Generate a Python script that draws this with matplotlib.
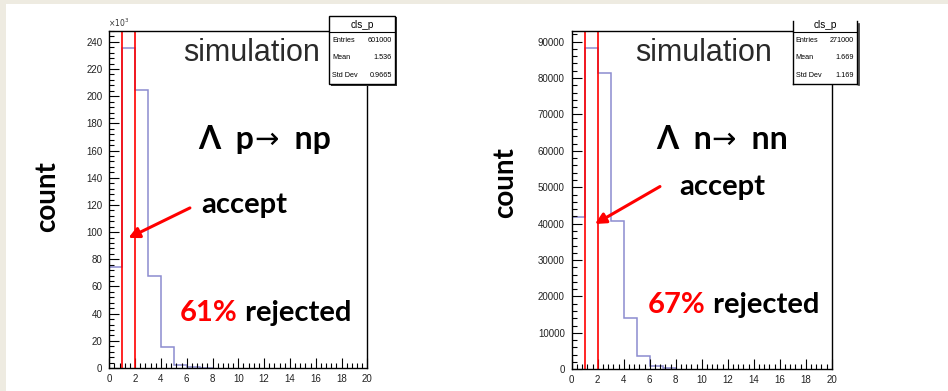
import numpy as np
import matplotlib
matplotlib.use("Agg")
import matplotlib.pyplot as plt
from matplotlib.patches import Rectangle
from matplotlib.lines import Line2D
from matplotlib.ticker import MultipleLocator

# histogram contents (cluster size, integer bins 0..8)
bin_edges = [0, 1, 2, 3, 4, 5, 6, 7, 8]
counts_lp = [74.5, 235.8, 204.5, 67.8, 15.3, 2.4, 0.8, 0.2]          # x10^3
counts_ln = [41900, 88300, 81300, 40700, 14000, 3600, 800, 300]
cut_lines = [1, 2]

stats_lp = [("Entries", "601000"), ("Mean", "1.536"), ("Std Dev", "0.9665")]
stats_ln = [("Entries", "271000"), ("Mean", "1.669"), ("Std Dev", "1.169")]

W, H = 948, 391
fig = plt.figure(figsize=(W / 100, H / 100), dpi=100)
fig.patch.set_facecolor("white")

def fx(px):
    return px / W

def fy(py):
    return 1 - py / H

beige = "#eeebe1"
fig.add_artist(Rectangle((0, fy(4)), 1, 4 / H, transform=fig.transFigure, color=beige, lw=0))
fig.add_artist(Rectangle((0, 0), fx(6), 1, transform=fig.transFigure, color=beige, lw=0))

tick_font = "Liberation Sans"
big_font = ["Lato", "DejaVu Sans"]
hist_col = "#8c8cd0"
BIG = 21


def setup_axis(ax, ymax, ymaj, ymin):
    ax.set_xlim(0, 20)
    ax.set_ylim(0, ymax)
    ax.xaxis.set_major_locator(MultipleLocator(2))
    ax.xaxis.set_minor_locator(MultipleLocator(0.4))
    ax.yaxis.set_major_locator(MultipleLocator(ymaj))
    ax.yaxis.set_minor_locator(MultipleLocator(ymin))
    ax.tick_params(which="both", direction="in", top=False, right=False,
                   labelsize=7, width=0.8, labelcolor="#222222")
    ax.tick_params(axis="x", pad=4)
    ax.tick_params(axis="y", pad=5)
    ax.tick_params(which="major", length=7)
    ax.tick_params(which="minor", length=3.5)
    for lab in ax.get_xticklabels() + ax.get_yticklabels():
        lab.set_fontfamily(tick_font)
    for s in ax.spines.values():
        s.set_linewidth(1.0)


def stats_box(x0, x1, ytop, ybot, rows, top_line=True):
    if top_line:
        fig.add_artist(Rectangle((fx(x0 + 1.5), fy(ybot + 1.5)), fx(x1 - x0), (ybot - ytop) / H,
                                 transform=fig.transFigure, facecolor="#333333", lw=0, zorder=5))
    fig.add_artist(Rectangle((fx(x0), fy(ybot)), fx(x1 - x0), (ybot - ytop) / H,
                             transform=fig.transFigure, facecolor="white",
                             edgecolor="black" if top_line else "none", lw=1.0, zorder=6))
    if not top_line:
        for xs, ys in [([x0, x0], [ytop, ybot]), ([x1, x1], [ytop, ybot]), ([x0, x1], [ybot, ybot])]:
            fig.add_artist(Line2D([fx(v) for v in xs], [fy(v) for v in ys],
                                  transform=fig.transFigure, color="black", lw=1.0, zorder=7))
        fig.add_artist(Line2D([fx(x1 + 1.2), fx(x1 + 1.2)], [fy(ytop + 3), fy(ybot + 1.2)],
                              transform=fig.transFigure, color="#333333", lw=1.2, zorder=5))
    fig.add_artist(Line2D([fx(x0), fx(x1)], [fy(31.7), fy(31.7)],
                          transform=fig.transFigure, color="black", lw=0.8, zorder=7))
    fig.text(fx((x0 + x1) / 2), fy(24.5), "cls_p", ha="center", va="center",
             fontsize=7.2, family=tick_font, zorder=8)
    for (name, val), yy in zip(rows, [40.7, 57.7, 75.7]):
        fig.text(fx(x0 + 3), fy(yy), name, ha="left", va="center", fontsize=5.2,
                 family=tick_font, zorder=8)
        fig.text(fx(x1 - 3), fy(yy), val, ha="right", va="center", fontsize=5.2,
                 family=tick_font, zorder=8)


def process_label(ax, xy, left, right):
    t = ax.text(*xy, left, ha="left", va="center", fontsize=23,
                family=big_font, fontweight="bold")
    a = ax.annotate("\u2192", xy=(1, 0.5), xycoords=t, ha="left", va="center",
                    fontsize=21, family="DejaVu Sans", fontweight="normal")
    ax.annotate(right, xy=(1, 0.5), xycoords=a, ha="left", va="center",
                fontsize=23, family=big_font, fontweight="bold")


def annotate_panel(ax, sim_xy, proc, proc_xy, acc_xy, rej_xy, pct, tail, tip):
    ax.text(*sim_xy, "simulation", ha="center", va="center", fontsize=22,
            family=tick_font, color="#2a2a2a")
    process_label(ax, proc_xy, *proc)
    ax.text(*acc_xy, "accept", ha="center", va="center", fontsize=BIG,
            family=big_font, fontweight="bold")
    t1 = ax.text(*rej_xy, pct, ha="left", va="center", fontsize=BIG,
                 family=big_font, fontweight="bold", color="#ff0000")
    ax.annotate(" rejected", xy=(1, 0.5), xycoords=t1, ha="left", va="center",
                fontsize=BIG, family=big_font, fontweight="bold", color="black")
    ax.annotate("", xy=tip, xytext=tail,
                arrowprops=dict(arrowstyle="-|>", color="#ff0000", lw=2.2,
                                mutation_scale=16, shrinkA=0, shrinkB=0))


# left panel: Lambda p -> n p
ax1 = fig.add_axes([fx(109.3), fy(368), fx(258), 337 / H])
ax1.stairs(counts_lp, bin_edges, color=hist_col, lw=1.1)
for c in cut_lines:
    ax1.axvline(c, color="#ff0000", lw=1.2)
setup_axis(ax1, 248, 20, 4)
fig.text(fx(108), fy(29), r"$\times10^{3}$", fontsize=5.5, family=tick_font,
         ha="left", va="bottom", color="#333333")
annotate_panel(ax1, (11.0, 231.7), ("Λ  p", "  np"), (6.9, 168), (10.5, 120),
               (5.48, 40.3), "61%", (6.25, 117.8), (1.48, 95.7))
stats_box(329.3, 395, 16, 84.3, stats_lp)

# right panel: Lambda n -> n n
ax2 = fig.add_axes([fx(571.7), fy(369.3), fx(260), 338.6 / H])
ax2.stairs(counts_ln, bin_edges, color=hist_col, lw=1.1)
for c in cut_lines:
    ax2.axvline(c, color="#ff0000", lw=1.2)
setup_axis(ax2, 93000, 10000, 2000)
annotate_panel(ax2, (10.18, 86950), ("Λ  n", "  nn"), (6.48, 63000), (11.6, 50000),
               (5.85, 17660), "67%", (6.79, 50200), (1.79, 39900))
stats_box(792.7, 857.3, 20.7, 84, stats_ln, top_line=False)

fig.text(fx(47), fy(196.5), "count", rotation=90, ha="center", va="center",
         fontsize=20, family=big_font, fontweight="bold")
fig.text(fx(505), fy(183), "count", rotation=90, ha="center", va="center",
         fontsize=20, family=big_font, fontweight="bold")

fig.savefig("out.png", dpi=100, facecolor=fig.get_facecolor())
